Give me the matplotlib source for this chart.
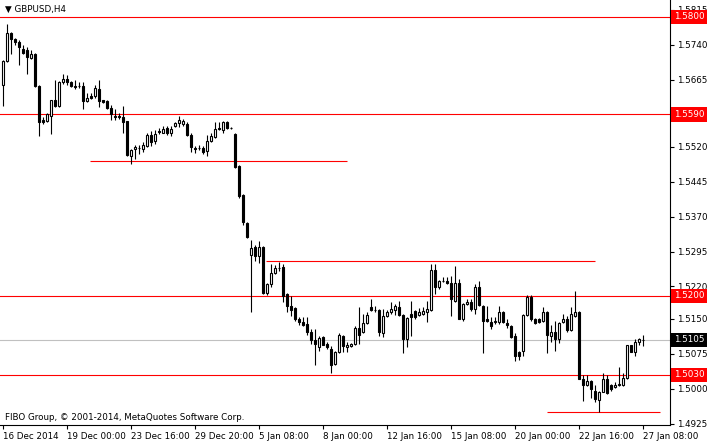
import numpy as np
import matplotlib
matplotlib.use('Agg')
import matplotlib.pyplot as plt
import matplotlib.transforms as mtransforms

# GBPUSD H4 candles, bar 0 = 16 Dec 2014 08:00
opens = [1.5654, 1.5704, 1.5766, 1.5753, 1.5746, 1.5731, 1.5729, 1.5712, 1.5719, 1.5652,
         1.5577, 1.5575, 1.5586, 1.5622, 1.5607, 1.5659, 1.5667, 1.5659, 1.5650, 1.5650,
         1.5652, 1.5618, 1.5629, 1.5629, 1.5644, 1.5620, 1.5618, 1.5603, 1.5586, 1.5586,
         1.5584, 1.5575, 1.5500, 1.5515, 1.5517, 1.5515, 1.5521, 1.5545, 1.5532, 1.5554,
         1.5551, 1.5560, 1.5549, 1.5564, 1.5571, 1.5569, 1.5569, 1.5545, 1.5517, 1.5517,
         1.5517, 1.5511, 1.5532, 1.5541, 1.5560, 1.5556, 1.5573, 1.5560, 1.5547, 1.5479,
         1.5416, 1.5356, 1.5288, 1.5305, 1.5286, 1.5305, 1.5206, 1.5226, 1.5249, 1.5260,
         1.5262, 1.5204, 1.5178, 1.5174, 1.5151, 1.5144, 1.5140, 1.5121, 1.5104, 1.5089,
         1.5112, 1.5097, 1.5086, 1.5054, 1.5078, 1.5114, 1.5089, 1.5091, 1.5097, 1.5131,
         1.5121, 1.5142, 1.5176, 1.5170, 1.5170, 1.5119, 1.5157, 1.5164, 1.5170, 1.5176,
         1.5159, 1.5106, 1.5161, 1.5168, 1.5159, 1.5161, 1.5164, 1.5170, 1.5256, 1.5219,
         1.5232, 1.5232, 1.5228, 1.5189, 1.5228, 1.5151, 1.5183, 1.5187, 1.5172, 1.5219,
         1.5178, 1.5149, 1.5144, 1.5144, 1.5144, 1.5164, 1.5142, 1.5134, 1.5114, 1.5080,
         1.5082, 1.5159, 1.5198, 1.5149, 1.5149, 1.5146, 1.5166, 1.5114, 1.5121, 1.5106,
         1.5144, 1.5149, 1.5127, 1.5157, 1.5166, 1.5022, 1.5007, 1.5016, 1.4996, 1.4975,
         1.4994, 1.5020, 1.5007, 1.5003, 1.5007, 1.5007, 1.5024, 1.5093, 1.5080, 1.5101,
         1.5104]
highs = [1.5708, 1.5785, 1.5767, 1.5755, 1.5749, 1.5740, 1.5734, 1.5729, 1.5721, 1.5654,
         1.5584, 1.5592, 1.5622, 1.5665, 1.5661, 1.5676, 1.5674, 1.5661, 1.5665, 1.5659,
         1.5659, 1.5637, 1.5637, 1.5654, 1.5665, 1.5622, 1.5620, 1.5611, 1.5601, 1.5594,
         1.5607, 1.5576, 1.5515, 1.5524, 1.5524, 1.5530, 1.5551, 1.5554, 1.5556, 1.5560,
         1.5564, 1.5564, 1.5564, 1.5573, 1.5586, 1.5581, 1.5573, 1.5549, 1.5521, 1.5524,
         1.5521, 1.5545, 1.5551, 1.5573, 1.5573, 1.5575, 1.5575, 1.5562, 1.5549, 1.5481,
         1.5419, 1.5359, 1.5320, 1.5309, 1.5318, 1.5307, 1.5228, 1.5269, 1.5266, 1.5273,
         1.5269, 1.5206, 1.5200, 1.5176, 1.5155, 1.5155, 1.5155, 1.5129, 1.5129, 1.5114,
         1.5114, 1.5101, 1.5091, 1.5082, 1.5119, 1.5116, 1.5101, 1.5099, 1.5134, 1.5176,
         1.5161, 1.5166, 1.5194, 1.5178, 1.5172, 1.5172, 1.5170, 1.5187, 1.5183, 1.5189,
         1.5161, 1.5155, 1.5189, 1.5170, 1.5174, 1.5176, 1.5189, 1.5269, 1.5269, 1.5234,
         1.5241, 1.5241, 1.5243, 1.5264, 1.5236, 1.5185, 1.5194, 1.5194, 1.5226, 1.5232,
         1.5181, 1.5178, 1.5155, 1.5155, 1.5178, 1.5168, 1.5151, 1.5136, 1.5119, 1.5082,
         1.5161, 1.5202, 1.5202, 1.5153, 1.5153, 1.5176, 1.5168, 1.5136, 1.5146, 1.5144,
         1.5161, 1.5157, 1.5176, 1.5211, 1.5168, 1.5029, 1.5029, 1.5018, 1.5007, 1.4996,
         1.5033, 1.5029, 1.5011, 1.5014, 1.5046, 1.5033, 1.5095, 1.5095, 1.5108, 1.5110,
         1.5116]
lows = [1.5607, 1.5702, 1.5719, 1.5740, 1.5697, 1.5719, 1.5676, 1.5710, 1.5648, 1.5543,
        1.5569, 1.5573, 1.5547, 1.5605, 1.5605, 1.5656, 1.5654, 1.5648, 1.5644, 1.5646,
        1.5601, 1.5616, 1.5624, 1.5626, 1.5605, 1.5614, 1.5601, 1.5579, 1.5579, 1.5581,
        1.5551, 1.5500, 1.5483, 1.5494, 1.5504, 1.5509, 1.5519, 1.5521, 1.5526, 1.5547,
        1.5549, 1.5545, 1.5543, 1.5562, 1.5562, 1.5566, 1.5543, 1.5509, 1.5506, 1.5513,
        1.5504, 1.5500, 1.5530, 1.5539, 1.5556, 1.5551, 1.5558, 1.5558, 1.5474, 1.5410,
        1.5352, 1.5324, 1.5166, 1.5275, 1.5271, 1.5204, 1.5202, 1.5219, 1.5247, 1.5254,
        1.5187, 1.5166, 1.5157, 1.5146, 1.5136, 1.5134, 1.5116, 1.5097, 1.5052, 1.5082,
        1.5093, 1.5086, 1.5033, 1.5050, 1.5076, 1.5080, 1.5078, 1.5089, 1.5095, 1.5097,
        1.5119, 1.5140, 1.5168, 1.5166, 1.5114, 1.5112, 1.5155, 1.5161, 1.5159, 1.5157,
        1.5076, 1.5089, 1.5114, 1.5151, 1.5157, 1.5159, 1.5144, 1.5168, 1.5204, 1.5215,
        1.5230, 1.5226, 1.5157, 1.5187, 1.5149, 1.5146, 1.5181, 1.5168, 1.5161, 1.5178,
        1.5076, 1.5144, 1.5129, 1.5140, 1.5140, 1.5142, 1.5131, 1.5110, 1.5059, 1.5061,
        1.5071, 1.5157, 1.5146, 1.5140, 1.5142, 1.5144, 1.5076, 1.5101, 1.5082, 1.5099,
        1.5142, 1.5123, 1.5125, 1.5155, 1.5020, 1.4973, 1.5005, 1.4981, 1.4971, 1.4951,
        1.4992, 1.4988, 1.4996, 1.5001, 1.5005, 1.5005, 1.5022, 1.5078, 1.5071, 1.5093,
        1.5091]
closes = [1.5704, 1.5766, 1.5753, 1.5746, 1.5734, 1.5723, 1.5714, 1.5719, 1.5650, 1.5573,
          1.5573, 1.5590, 1.5620, 1.5607, 1.5659, 1.5667, 1.5659, 1.5650, 1.5649, 1.5650,
          1.5618, 1.5626, 1.5626, 1.5646, 1.5618, 1.5616, 1.5603, 1.5590, 1.5585, 1.5584,
          1.5573, 1.5502, 1.5513, 1.5519, 1.5517, 1.5524, 1.5545, 1.5530, 1.5547, 1.5553,
          1.5558, 1.5551, 1.5558, 1.5571, 1.5577, 1.5575, 1.5545, 1.5519, 1.5516, 1.5517,
          1.5509, 1.5532, 1.5543, 1.5558, 1.5558, 1.5573, 1.5560, 1.5560, 1.5476, 1.5414,
          1.5359, 1.5326, 1.5303, 1.5286, 1.5305, 1.5206, 1.5226, 1.5249, 1.5260, 1.5259,
          1.5200, 1.5178, 1.5170, 1.5151, 1.5144, 1.5136, 1.5121, 1.5104, 1.5097, 1.5110,
          1.5095, 1.5089, 1.5052, 1.5078, 1.5116, 1.5091, 1.5093, 1.5097, 1.5131, 1.5116,
          1.5142, 1.5159, 1.5170, 1.5169, 1.5121, 1.5157, 1.5164, 1.5172, 1.5178, 1.5159,
          1.5106, 1.5153, 1.5155, 1.5155, 1.5166, 1.5168, 1.5172, 1.5256, 1.5219, 1.5232,
          1.5231, 1.5228, 1.5194, 1.5228, 1.5151, 1.5183, 1.5187, 1.5172, 1.5219, 1.5181,
          1.5146, 1.5146, 1.5134, 1.5146, 1.5164, 1.5144, 1.5136, 1.5112, 1.5071, 1.5071,
          1.5159, 1.5198, 1.5149, 1.5142, 1.5144, 1.5166, 1.5116, 1.5121, 1.5106, 1.5142,
          1.5149, 1.5127, 1.5161, 1.5166, 1.5022, 1.5009, 1.5016, 1.4999, 1.4977, 1.4994,
          1.5020, 1.4990, 1.4999, 1.5009, 1.5011, 1.5024, 1.5093, 1.5080, 1.5101, 1.5106,
          1.5105]

time_ticks = [0, 16, 32, 48, 64, 80, 96, 112, 128, 144, 160]
time_labels = ["16 Dec 2014", "19 Dec 00:00", "23 Dec 16:00", "29 Dec 20:00",
               "5 Jan 08:00", "8 Jan 00:00", "12 Jan 16:00", "15 Jan 08:00",
               "20 Jan 00:00", "22 Jan 16:00", "27 Jan 08:00"]
price_ticks = [1.5815, 1.5740, 1.5665, 1.5590, 1.5520, 1.5445, 1.5370,
               1.5295, 1.5220, 1.5150, 1.5075, 1.5000, 1.4925]

# horizontal levels drawn across the whole chart
levels = [1.5800, 1.5590, 1.5200, 1.5030]
bid = 1.5105
# short trend lines: (price, first bar, last bar)
segments = [(1.5489, 21.75, 86), (1.5275, 65.75, 148), (1.4951, 136, 164.25)]

opens = np.array(opens)
highs = np.array(highs)
lows = np.array(lows)
closes = np.array(closes)
bars = np.arange(len(opens))

W, H = 710, 445
fig = plt.figure(figsize=(W / 100, H / 100), dpi=100)
ax = fig.add_axes([0, 20 / H, 670 / W, 425 / H])
fs = 6.3

for lv in levels:
    ax.axhline(lv, color='#ff0000', linewidth=0.8, zorder=1)
ax.axhline(bid, color='#c0c0c0', linewidth=0.8, zorder=1)
for p, a, b in segments:
    ax.hlines(p, a, b, color='#ff0000', linewidth=0.8, zorder=1)

# candles
ax.vlines(bars, lows, highs, color='black', linewidth=0.8, zorder=2)
up = closes >= opens
body_lo = np.minimum(opens, closes)
body_h = np.abs(closes - opens)
ax.bar(bars, body_h, bottom=body_lo, width=0.5,
       color=np.where(up, 'white', 'black'), edgecolor='black',
       linewidth=0.8, zorder=3)

ax.set_xlim(-0.75, 166.75)
ax.set_ylim(1.4922, 1.5836)

for s in ['left', 'top']:
    ax.spines[s].set_visible(False)
for s in ['right', 'bottom']:
    ax.spines[s].set_linewidth(0.8)

# the 1.5590 tick sits under the level box, which carries the same text
ax.yaxis.tick_right()
ax.set_yticks(price_ticks)
ax.set_yticklabels(["" if v in levels else f"{v:.4f}" for v in price_ticks])
ax.tick_params(axis='y', direction='out', length=3, width=0.8, pad=2, labelsize=fs)
ax.set_xticks(time_ticks)
ax.set_xticklabels(time_labels)
ax.tick_params(axis='x', direction='out', length=3, width=0.8, pad=2, labelsize=fs)
for t in ax.get_xticklabels():
    t.set_horizontalalignment('left')

# price labels on the axis
trans = mtransforms.blended_transform_factory(ax.transAxes, ax.transData)
for lv in levels:
    ax.text(1.006, lv, f"{lv:.4f}", transform=trans, ha='left', va='center',
            color='white', fontsize=fs, zorder=5, clip_on=False,
            bbox=dict(boxstyle='square,pad=0.3', fc='#ff0000', ec='none'))
ax.text(1.006, bid, f"{bid:.4f}", transform=trans, ha='left', va='center',
        color='white', fontsize=fs, zorder=5, clip_on=False,
        bbox=dict(boxstyle='square,pad=0.3', fc='black', ec='none'))

ax.text(0.007, 0.978, "\u25bc GBPUSD,H4", transform=ax.transAxes, ha='left',
        va='center', fontsize=fs, color='black')
ax.text(0.007, 0.018, "FIBO Group, \u00a9 2001-2014, MetaQuotes Software Corp.",
        transform=ax.transAxes, ha='left', va='center', fontsize=fs, color='black')

fig.savefig('out.png', dpi=100)
